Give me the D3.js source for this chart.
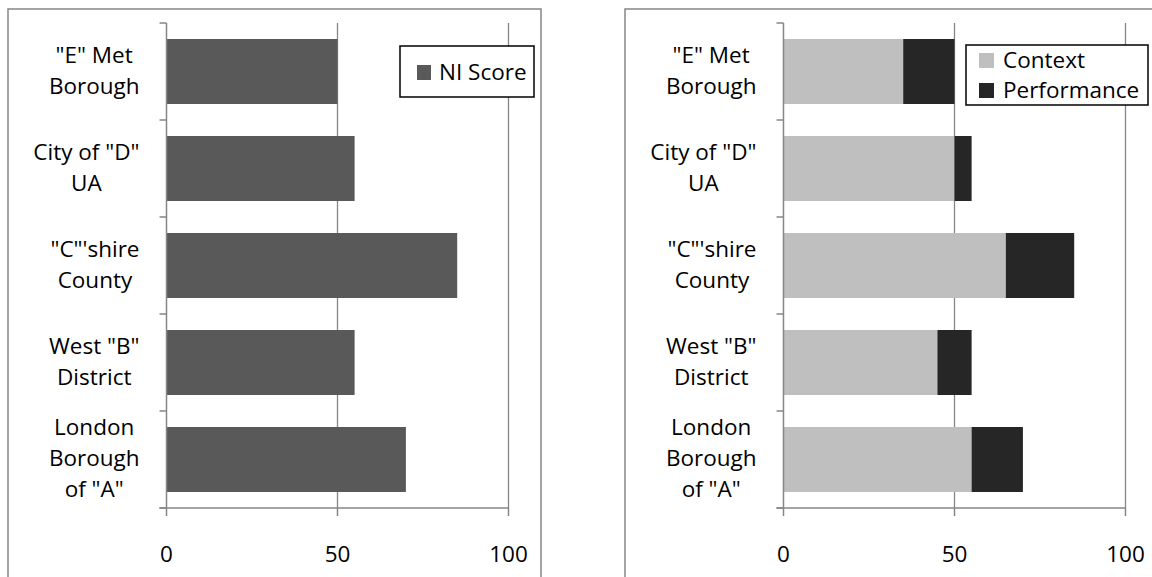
<!DOCTYPE html>
<html>
<head>
<meta charset="utf-8">
<script src="https://cdn.jsdelivr.net/npm/d3@7"></script>
<style>
  body { margin: 0; background: #fff; }
  svg text { font-family: "Open Sans", Lato, sans-serif; fill: #000; }
</style>
</head>
<body>
<div id="canvas"></div>
<script>
// categories, top to bottom, split into the lines they are drawn on
var categoryLines = [
	['"E" Met', 'Borough'],
	['City of "D"', 'UA'],
	['"C"\'shire', 'County'],
	['West "B"', 'District'],
	['London', 'Borough', 'of "A"']
];
var niScore = [50, 55, 85, 55, 70];
var context = [35, 50, 65, 45, 55];
var performance = [15, 5, 20, 10, 15];
var xTicks = [0, 50, 100];

var width = 1152, height = 577;
var gridColor = "#868686";
var fontSize = 22.5;
var svg = d3.select("#canvas").append("svg").attr("width", width).attr("height", height);

var drawPanel = function(offset) {
	var g = svg.append("g").attr("transform", "translate(" + offset + ",0)");

	// chart frame (bottom runs off the picture)
	g.append("rect").attr("x", 8).attr("y", 9)
		.attr("width", 533).attr("height", 620)
		.attr("fill", "white")
		.attr("stroke", gridColor)
		.attr("stroke-width", 1.5);

	var x = d3.scaleLinear().domain([0, 100]).range([166.5, 508.5]);
	var y = d3.scaleBand().domain(d3.range(categoryLines.length))
		.range([23, 508]).paddingInner(0.33).paddingOuter(0.165);
	var step = y.step();

	// vertical gridlines
	g.selectAll(".grid").data(xTicks.slice(1)).enter().append("line")
		.attr("x1", function(d) { return x(d); }).attr("x2", function(d) { return x(d); })
		.attr("y1", 23).attr("y2", 508)
		.attr("stroke", gridColor).attr("stroke-width", 1.3);

	return { g: g, x: x, y: y, step: step };
};

var drawAxes = function(p) {
	var g = p.g, x = p.x, y = p.y;
	// category axis with ticks between categories
	g.append("line").attr("x1", x(0)).attr("x2", x(0)).attr("y1", 23).attr("y2", 508)
		.attr("stroke", gridColor).attr("stroke-width", 1.5);
	g.selectAll(".ytick").data(d3.range(categoryLines.length + 1)).enter().append("line")
		.attr("x1", x(0) - 7).attr("x2", x(0))
		.attr("y1", function(i) { return 23 + i * p.step; })
		.attr("y2", function(i) { return 23 + i * p.step; })
		.attr("stroke", gridColor).attr("stroke-width", 1.5);

	// value axis
	g.append("line").attr("x1", x(0) - 7).attr("x2", x(100)).attr("y1", 508).attr("y2", 508)
		.attr("stroke", gridColor).attr("stroke-width", 1.5);
	g.selectAll(".xtick").data(xTicks).enter().append("line")
		.attr("x1", function(d) { return x(d); }).attr("x2", function(d) { return x(d); })
		.attr("y1", 508).attr("y2", 516)
		.attr("stroke", gridColor).attr("stroke-width", 1.5);
	g.selectAll(".xlabel").data(xTicks).enter().append("text")
		.attr("x", function(d) { return x(d); }).attr("y", 562)
		.attr("text-anchor", "middle")
		.style("font-size", fontSize + "px")
		.text(function(d) { return d; });

	// category labels: lines centred in a block whose right edge sits left of the axis
	var rightEdge = x(0) - 27;
	categoryLines.forEach(function(lines, i) {
		var cy = y(i) + y.bandwidth() / 2;
		var t = g.append("text").attr("text-anchor", "middle").style("font-size", fontSize + "px");
		var spans = lines.map(function(line, k) {
			return t.append("tspan")
				.attr("y", cy + 6.5 - (lines.length - 1) * 15.5 + k * 31)
				.text(line);
		});
		var blockW = d3.max(spans, function(s) { return s.node().getComputedTextLength(); });
		spans.forEach(function(s) { s.attr("x", rightEdge - blockW / 2); });
	});
};

// left: NI Score
var left = drawPanel(0);
left.g.selectAll(".bar").data(niScore).enter().append("rect")
	.attr("x", left.x(0))
	.attr("y", function(d, i) { return left.y(i); })
	.attr("width", function(d) { return left.x(d) - left.x(0); })
	.attr("height", left.y.bandwidth())
	.attr("fill", "#595959");
drawAxes(left);

var leg1 = left.g.append("g");
leg1.append("rect").attr("x", 400).attr("y", 46).attr("width", 134).attr("height", 51)
	.attr("fill", "white").attr("stroke", "black").attr("stroke-width", 1.5);
leg1.append("rect").attr("x", 417).attr("y", 65).attr("width", 14).attr("height", 15).attr("fill", "#595959");
leg1.append("text").attr("x", 439).attr("y", 80).style("font-size", fontSize + "px").text("NI Score");

// right: Context + Performance stacked
var right = drawPanel(617);
var rows = categoryLines.map(function(c, i) { return { i: i, Context: context[i], Performance: performance[i] }; });
var series = d3.stack().keys(["Context", "Performance"])(rows);
var colors = { Context: "#bfbfbf", Performance: "#262626" };
right.g.selectAll(".layer").data(series).enter().append("g")
	.attr("fill", function(s) { return colors[s.key]; })
	.selectAll("rect").data(function(s) { return s; }).enter().append("rect")
	.attr("x", function(d) { return right.x(d[0]); })
	.attr("y", function(d) { return right.y(d.data.i); })
	.attr("width", function(d) { return right.x(d[1]) - right.x(d[0]); })
	.attr("height", right.y.bandwidth());
drawAxes(right);

var leg2 = right.g.append("g");
leg2.append("rect").attr("x", 349).attr("y", 45).attr("width", 182).attr("height", 60)
	.attr("fill", "white").attr("stroke", "black").attr("stroke-width", 1.5);
["Context", "Performance"].forEach(function(k, i) {
	leg2.append("rect").attr("x", 362).attr("y", 53 + i * 30).attr("width", 15).attr("height", 15).attr("fill", colors[k]);
	leg2.append("text").attr("x", 386).attr("y", 68 + i * 30).style("font-size", fontSize + "px").text(k);
});
</script>
</body>
</html>
